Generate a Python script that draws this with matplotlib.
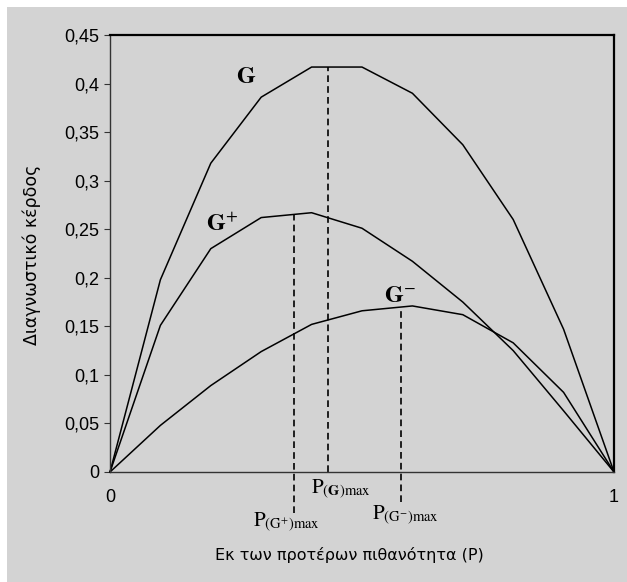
import matplotlib
matplotlib.use("Agg")
import matplotlib.pyplot as plt
from matplotlib.patches import Rectangle

plt.rcParams['mathtext.fontset'] = 'stix'

# Data
p = [0.0, 0.1, 0.2, 0.3, 0.4, 0.5, 0.6, 0.7, 0.8, 0.9, 1.0]
G = [0, 0.198, 0.318, 0.386, 0.417, 0.417, 0.390, 0.337, 0.260, 0.147, 0]
G_plus = [0, 0.151, 0.230, 0.262, 0.267, 0.251, 0.217, 0.175, 0.125, 0.063, 0]
G_minus = [0, 0.048, 0.089, 0.124, 0.152, 0.166, 0.171, 0.162, 0.133, 0.082, 0]

p_G_max = 0.432
p_Gplus_max = 0.365
p_Gminus_max = 0.577
G_max_val = 0.417
Gplus_max_val = 0.265
Gminus_max_val = 0.170

yticks = [0, 0.05, 0.1, 0.15, 0.2, 0.25, 0.3, 0.35, 0.4, 0.45]
ytick_labels = ['0', '0,05', '0,1', '0,15', '0,2', '0,25', '0,3', '0,35', '0,4', '0,45']
xticks = [0, 1]
xtick_labels = ['0', '1']

W, H = 627, 582
bg = '#d3d3d3'
fig = plt.figure(figsize=(W / 100, H / 100), dpi=100)
fig.patch.set_facecolor('white')
fig.patches.append(Rectangle((7 / W, 0), 1 - 7 / W, 1 - 7 / H, transform=fig.transFigure,
                             facecolor=bg, edgecolor='none', zorder=-10))

ax = fig.add_axes([110 / W, (H - 472) / H, (614 - 110) / W, (472 - 35) / H])
ax.set_facecolor(bg)

lc = 'black'
ax.plot(p, G, color=lc, lw=1.1, clip_on=False)
ax.plot(p, G_plus, color=lc, lw=1.1, clip_on=False)
ax.plot(p, G_minus, color=lc, lw=1.1, clip_on=False)

ds = (0, (4, 2.5))
ax.plot([p_G_max, p_G_max], [0, G_max_val], color=lc, lw=1.2, linestyle=ds, clip_on=False)
ax.plot([p_Gplus_max, p_Gplus_max], [-0.0425, Gplus_max_val], color=lc, lw=1.2, linestyle=ds, clip_on=False)
ax.plot([p_Gminus_max, p_Gminus_max], [-0.031, Gminus_max_val], color=lc, lw=1.2, linestyle=ds, clip_on=False)

ax.set_xlim(0, 1)
ax.set_ylim(0, 0.45)

ax.set_yticks(yticks)
ax.set_yticklabels(ytick_labels, fontfamily='Liberation Sans', fontsize=13)
ax.set_xticks(xticks)
ax.set_xticklabels(xtick_labels, fontfamily='Liberation Sans', fontsize=13)
ax.tick_params(axis='y', length=4, width=0.8, pad=4, color='#333333')
ax.tick_params(axis='x', length=0, pad=12)

for s in ['top', 'right']:
    ax.spines[s].set_linewidth(1.6)
    ax.spines[s].set_color('black')
for s in ['left', 'bottom']:
    ax.spines[s].set_linewidth(1.0)
    ax.spines[s].set_color('#333333')

# curve labels
ax.text(0.271, 0.408, r'$\mathbf{G}$', fontsize=17.5, ha='center', va='center')
ax.text(0.222, 0.256, r'$\mathbf{G}^{+}$', fontsize=17.5, ha='center', va='center')
ax.text(0.575, 0.182, r'$\mathbf{G}^{-}$', fontsize=17.5, ha='center', va='center')

# max labels (below axis)
ax.text(0.459, -0.0175, r'$\mathrm{P}_{(\mathbf{G})\mathrm{max}}$', fontsize=15,
        ha='center', va='center', clip_on=False)
ax.text(0.351, -0.0515, r'$\mathrm{P}_{(\mathrm{G}^{+})\mathrm{max}}$', fontsize=15,
        ha='center', va='center', clip_on=False)
ax.text(0.587, -0.045, r'$\mathrm{P}_{(\mathrm{G}^{-})\mathrm{max}}$', fontsize=15,
        ha='center', va='center', clip_on=False)

fig.text(349 / W, 1 - 555 / H, 'Εκ των προτέρων πιθανότητα (P)', fontsize=11.5,
         fontfamily='DejaVu Sans', ha='center', va='center')
fig.text(32 / W, 1 - 255 / H, 'Διαγνωστικό κέρδος', fontsize=12.5, rotation=90,
         fontfamily='DejaVu Sans', ha='center', va='center')

fig.savefig('out.png', dpi=100, facecolor=fig.get_facecolor())
